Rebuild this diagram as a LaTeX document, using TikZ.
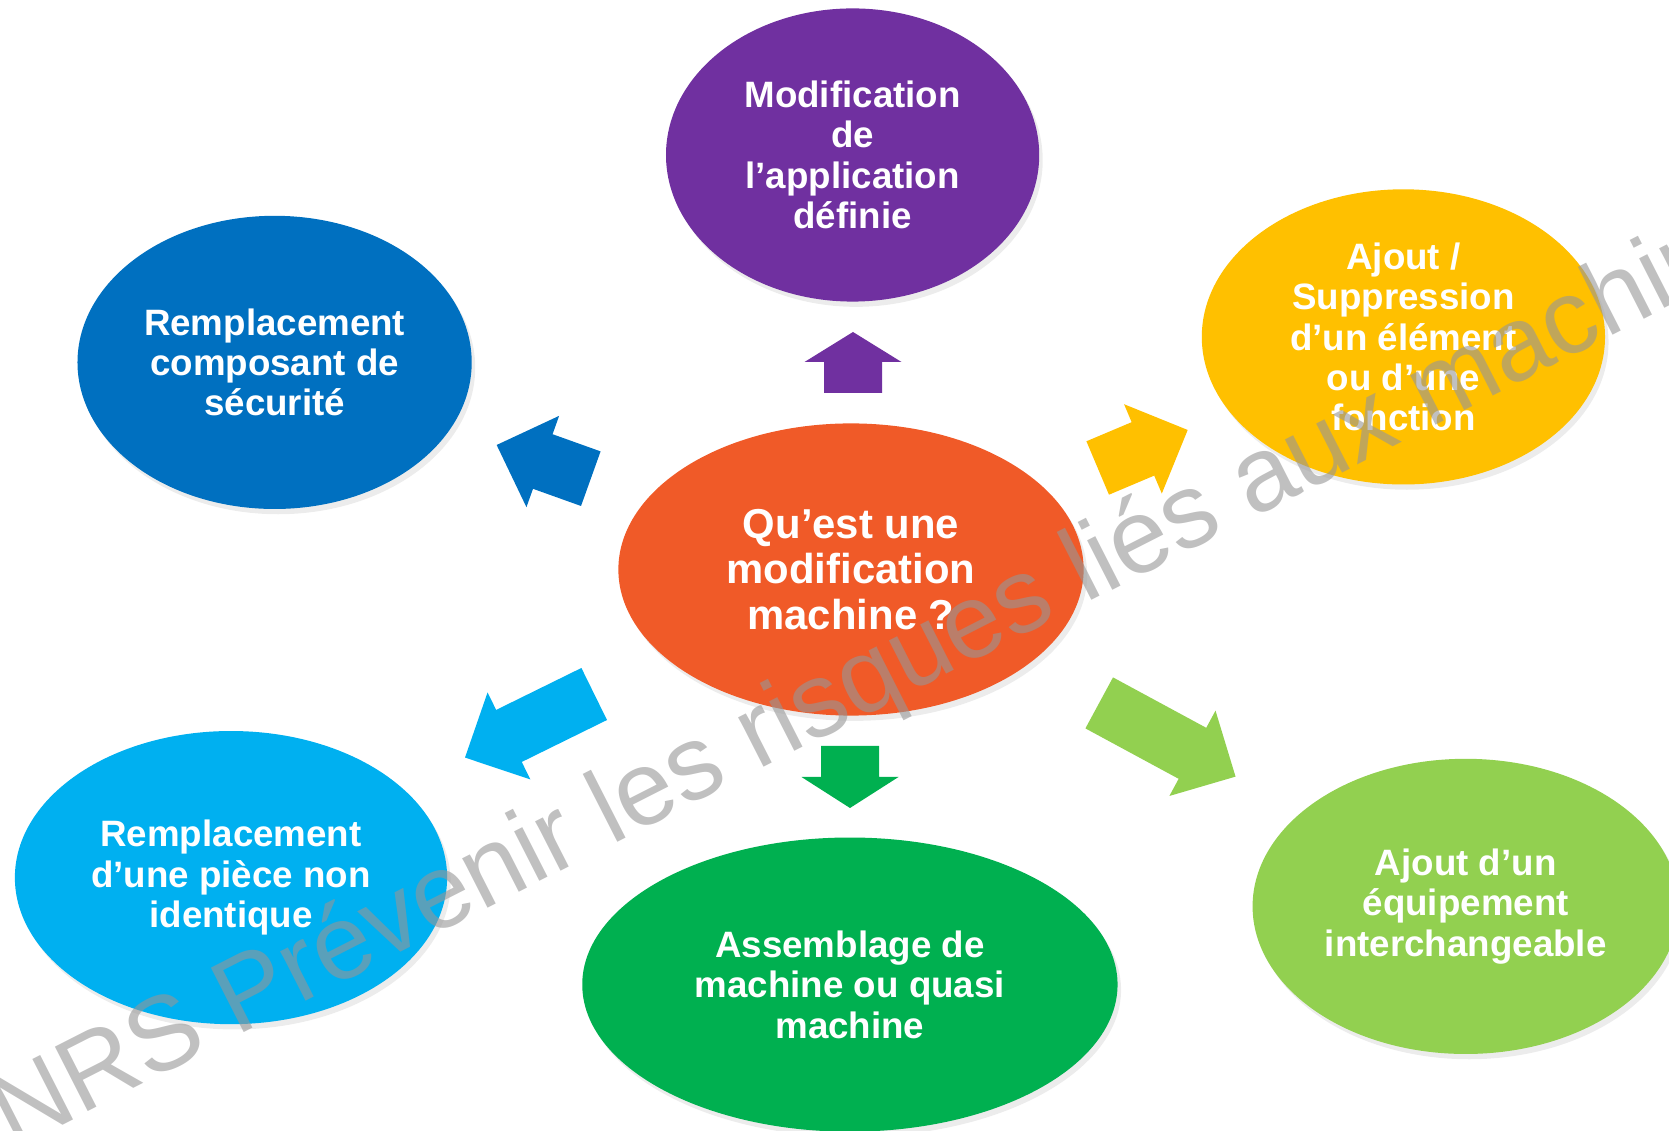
\documentclass[tikz,border=0pt]{standalone}
\usepackage{fontspec}
\setmainfont{Liberation Sans}
\usepackage{tikz}
\usetikzlibrary{shapes.geometric}
\usetikzlibrary{shadows}

\definecolor{cPurple}{HTML}{7030A0}
\definecolor{cBlue}{HTML}{0070C0}
\definecolor{cYellow}{HTML}{FFC000}
\definecolor{cOrange}{HTML}{F05A28}
\definecolor{cSky}{HTML}{00B0F0}
\definecolor{cGreen}{HTML}{00B050}
\definecolor{cLime}{HTML}{92D050}

% block arrow: base x, base y, angle, length, head length, colour
\newcommand{\bigarrow}[6]{%
	\begin{scope}[shift={(#1,#2)}, rotate=#3]
		\fill[#6] (0,-29) -- ({#4-#5},-29) -- ({#4-#5},-48.5) -- (#4,0)
		-- ({#4-#5},48.5) -- ({#4-#5},29) -- (0,29) -- cycle;
	\end{scope}}

\begin{document}
\begin{tikzpicture}[x=0.01cm,y=-0.01cm]
			\tikzset{bubble/.style = {shape=ellipse, inner sep=0pt, text=white,
					align=center, font=\bfseries\fontsize{10.44pt}{11.5pt}\selectfont,
					drop shadow={opacity=0.15, shadow xshift=1pt, shadow yshift=-1.5pt}}}
			\tikzset{bigbubble/.style = {bubble,
					font=\bfseries\fontsize{11.9pt}{12.94pt}\selectfont}}
			\tikzset{stamp/.style = {text=black!41, opacity=0.6, anchor=base west,
					rotate=27, font=\fontsize{29.9pt}{32pt}\selectfont}}
			
			\useasboundingbox (0,0) rectangle (1669,1131);
			\clip (0,0) rectangle (1669,1131);
			
			% vertices
			\node[bigbubble, fill=cOrange, minimum width=4.65cm, minimum height=2.92cm]
				(qmod) at (851,569.5) {Qu'est une\\modification\\machine ?};
			\node[bubble, fill=cPurple, minimum width=3.73cm, minimum height=2.93cm]
				(appli) at (852.6,155) {Modification\\de\\l'application\\définie};
			\node[bubble, fill=cBlue, minimum width=3.94cm, minimum height=2.93cm]
				(secu) at (274.6,362.4) {Remplacement\\composant de\\sécurité};
			\node[bubble, fill=cYellow, minimum width=4.03cm, minimum height=2.95cm]
				(ajout) at (1403.4,336.9) {Ajout /\\Suppression\\d'un élément\\ou d'une\\fonction};
			\node[bubble, fill=cSky, minimum width=4.32cm, minimum height=2.93cm]
				(piece) at (231,877.6) {Remplacement\\d'une pièce non\\identique};
			\node[bubble, fill=cGreen, minimum width=5.35cm, minimum height=2.94cm]
				(assemb) at (849.9,984.6) {Assemblage de\\machine ou quasi\\machine};
			\node[bubble, fill=cLime, minimum width=4.26cm, minimum height=2.95cm]
				(equip) at (1465.7,906.4) {Ajout d'un\\équipement\\interchangeable};
			
			% arrows
			\bigarrow{853}{393}{90}{61}{30}{cPurple}
			\bigarrow{590.8}{478.7}{160.3}{100}{49}{cBlue}
			\bigarrow{1097.7}{468}{22.9}{97.7}{48.6}{cYellow}
			\bigarrow{594.2}{694}{206.2}{144}{49}{cSky}
			\bigarrow{850}{746}{270}{62}{31}{cGreen}
			\bigarrow{1099.2}{702.9}{-28.4}{155}{49}{cLime}
			
			% watermark
			\node[stamp] (wm) at (-24,1169) {INRS Prévenir les risques liés aux machines};
			
\end{tikzpicture}
\end{document}
